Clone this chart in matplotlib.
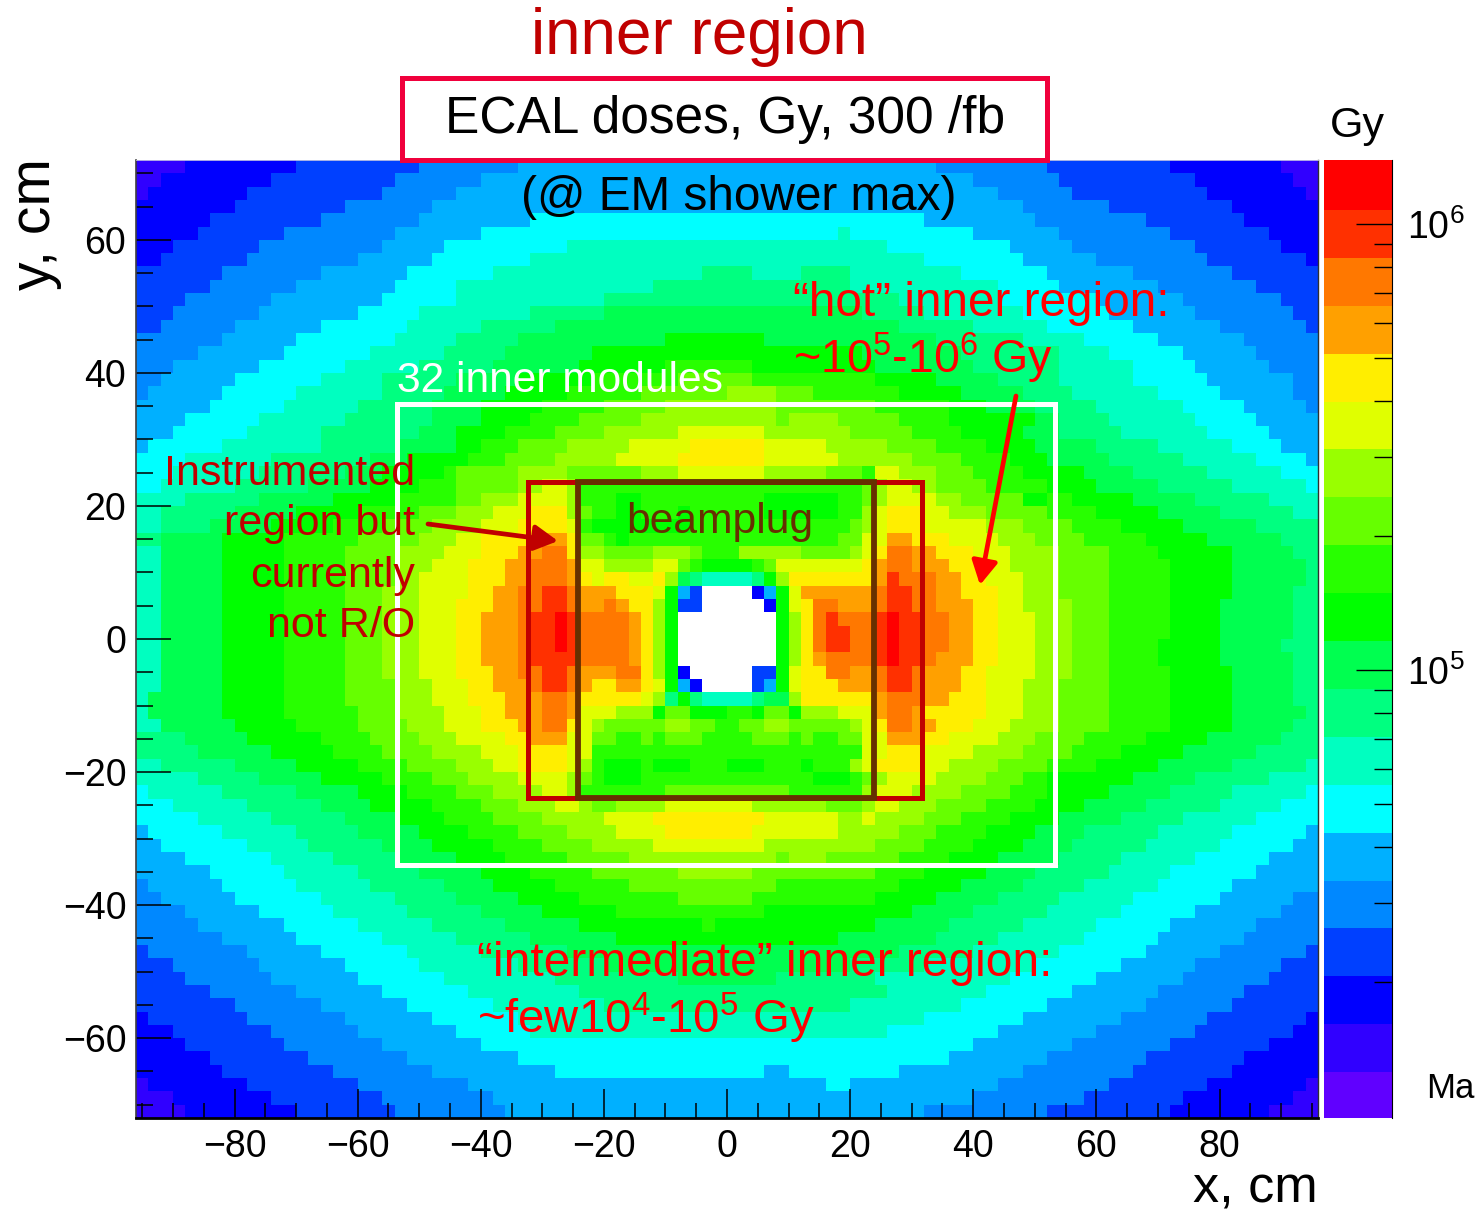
import numpy as np
import matplotlib
matplotlib.use("Agg")
import matplotlib.pyplot as plt
from matplotlib.colors import ListedColormap, LogNorm
from matplotlib.patches import Rectangle, FancyArrowPatch
from matplotlib.ticker import FixedLocator, NullFormatter

plt.rcParams['font.family'] = ['Liberation Sans', 'DejaVu Sans']
plt.rcParams['mathtext.fontset'] = 'custom'
plt.rcParams['mathtext.rm'] = 'Liberation Sans'
plt.rcParams['mathtext.default'] = 'rm'

W, H = 1476, 1213

# palette levels, lowest dose first (letter = level in the rows below)
level_names = "abcdefghijklmnopqrst"
level_colors = ['#6000ff', '#3000ff', '#0000ff', '#0040ff', '#0088ff', '#00b0ff', '#00ffff',
                '#00ffc0', '#00ff80', '#00ff50', '#00ff00', '#28ff00', '#66ff00', '#99ff00',
                '#e0ff00', '#ffee00', '#ffa000', '#ff7800', '#ff3000', '#ff0000']
dose_min, dose_max = 9.9e3, 1.39e6

x_edges = np.arange(-96, 97, 2)
y_edges = np.arange(72, -73, -2)

# one string per row from y=+72 down, each token = level + column where that level stops
dose_rows = [
    "b4 c13 d23 e31 f65 e74 d84 c93 b96",
    "b2 c11 d21 e28 f68 e75 d86 c94 b96",
    "b1 c9 d20 e26 f70 e76 d87 c95 b96",
    "c8 d17 e24 f72 e79 d89 c96",
    "c6 d15 e23 f32 g64 f73 e82 d90 c96",
    "c5 d12 e21 f28 g57 h58 g68 f75 e84 d92 c96",
    "c3 d10 e20 f25 g35 h61 g71 f76 e86 d93 c96",
    "c2 d9 e18 f24 g32 h64 g72 f78 e87 d95 c96",
    "d7 e15 f22 g29 h46 i50 h54 i58 h67 g74 f81 e89 d96",
    "d6 e13 f21 g26 h42 i58 h70 g75 f83 e91 d96",
    "d4 e11 f20 g26 h38 i62 h70 g78 f85 e93 d96",
    "d3 e10 f18 g23 h32 i38 j59 i64 h72 g79 f86 e94 d96",
    "d2 e8 f15 g22 h28 i34 j62 i68 h74 g81 f88 e95 d96",
    "e7 f13 g21 h26 i31 j43 k51 j65 i72 h77 g83 f90 e96",
    "e5 f12 g19 h25 i30 j37 k59 j67 i75 h79 g85 f91 e96",
    "e3 f10 g17 h23 i29 j36 k43 l50 k60 j68 i75 h81 g86 f92 e96",
    "e2 f8 g15 h20 i26 j31 k37 l44 m50 l60 k65 j70 i75 h81 g87 f94 e96",
    "e1 f7 g13 h20 i25 j30 k35 l41 m48 n52 m55 l62 k67 j72 i76 h83 g88 f94 e96",
    "f6 g12 h18 i24 j28 k33 l38 m43 n52 m60 l66 k69 j73 i78 h85 g90 f95 e96",
    "f4 g10 h17 i24 j28 k32 l36 m41 n52 m53 n57 m62 l66 k73 j75 i79 h86 g91 f96",
    "f3 g9 h15 i23 j26 k30 l34 m38 n44 o51 n58 m63 l67 k72 j75 i80 h87 g92 f96",
    "f1 g7 h15 i21 j26 k28 l31 m35 n40 o45 p51 o56 n61 m65 l69 k73 j78 i83 h89 g93 f96",
    "g4 h11 i19 j22 k27 l30 m34 n39 o44 p51 o57 n63 m67 l71 k74 j79 i85 h91 g95 f96",
    "g3 h10 i17 j20 k25 l26 m31 n35 m41 n44 o51 n56 m59 l60 o62 n65 m68 l72 k77 j81 i87 h93 g96",
    "g2 h8 i14 j19 k23 l26 m31 n33 o35 n36 l59 m60 n61 o63 n65 m69 l74 k78 j83 i89 h95 g96",
    "h4 i10 j16 k21 l26 m28 n31 o35 n36 l39 k41 l51 k57 l59 m60 n61 o65 n67 m72 k74 l76 k81 j86 i92 h96",
    "h2 i8 j13 k18 l23 m26 n29 o32 p35 n36 m37 l39 k41 l44 k45 l51 k57 l59 n60 o61 p64 o66 n69 m74 l78 k83 j88 i94 h96",
    "h2 i6 j11 k16 l20 m24 n28 o31 p35 o36 l37 k45 l58 m59 n60 o61 p64 o69 n72 m76 l80 k85 j91 i96",
    "i2 j7 k12 l18 m23 n26 o28 p33 q35 p36 m38 l39 k40 l57 m59 o61 q63 p66 o70 n73 m77 l82 k87 j93 i96",
    "h2 j7 k12 l17 m21 n25 o28 p31 q33 r35 p36 n38 m42 n45 m46 l49 n54 m58 n59 o60 p61 r63 q65 p68 o71 n75 m79 l83 k89 j94 i96",
    "h2 j7 k12 l17 m21 n24 o27 p30 q32 r35 q36 o38 n42 o44 m45 l46 k50 l51 m52 o59 p60 q61 r63 q66 p69 o71 n75 m79 l84 k89 j95 i96",
    "h2 j7 k12 l17 m21 n23 o27 p30 q32 r35 q36 p37 o38 p40 o42 p43 n44 j45 i46 h50 i51 k52 n53 p60 q61 s62 r65 q67 p69 o72 n75 m79 l84 k89 j95 i96",
    "h2 j7 k12 l17 m20 n23 o27 p29 q31 r33 s35 r36 q39 p42 o43 k44 f45 d46 .50 c51 f52 k53 o54 q60 r61 s63 r65 q67 p70 o72 n75 m79 l84 k89 j94 i96",
    "h2 j7 k12 l17 m20 n23 o26 p29 q31 r33 s35 r36 q38 r39 q40 p42 n43 k44 d46 .51 c52 k53 o54 p55 r57 q60 r61 s63 r65 q68 p70 o72 n76 m79 l84 k88 j94 i96",
    "h2 j7 k12 l17 m20 n23 o26 p28 q31 r32 s34 t35 s36 r40 q41 p42 n43 k44 .52 k53 n54 p55 r56 s57 r60 s61 t62 s64 r66 q68 p70 o73 n76 m79 l84 k88 j94 i96",
    "h2 j7 k12 l17 m20 n23 o26 p28 q31 r32 s34 t35 s36 r40 q41 p42 n43 k44 .52 k53 n54 p55 r56 s58 r60 s61 t62 s64 r66 q68 p70 o73 n76 m79 l84 k88 j94 i96",
    "h2 j7 k12 l17 m20 n23 o26 p28 q31 r32 s34 t35 s36 r40 q41 p42 n43 k44 .52 k53 n54 p55 r56 s58 r60 s61 t62 s64 r66 q68 p70 o73 n76 m79 l83 k88 j93 i96",
    "h2 j7 k12 l17 m20 n23 o26 p28 q31 r32 s36 r40 q41 p42 n43 k44 .52 k53 n54 p55 q56 r60 s61 t62 s64 r65 q68 p70 o73 n76 m79 l83 k88 j94 i96",
    "h2 j7 k12 l17 m20 n23 o26 p29 q31 r33 s35 r36 q39 r41 p42 n43 k44 c45 .50 d52 k53 o54 p56 r58 q60 r61 s63 r64 q67 p69 o73 n76 m79 l84 k89 j94 i96",
    "h2 j7 k12 l17 m21 n24 o27 p29 q32 r33 s35 r36 q37 p39 q41 p42 o43 k44 f45 c46 .50 d51 f52 k53 o54 p57 q60 r61 s63 r64 q67 p69 o72 n75 m79 l84 k89 j94 i96",
    "h1 j7 k12 l17 m21 n24 o27 p30 q33 r35 q36 p41 o42 n43 i44 k45 i46 h50 i51 j53 n54 p60 q61 r64 q66 p69 o72 n75 m79 l84 k89 j94 i96",
    "h1 j7 k12 l18 m21 n25 o28 p30 q33 r35 q36 o39 n42 k43 m45 k48 l50 k51 m53 k54 n57 o60 q61 r63 q64 p69 o72 n75 m79 l84 k89 j95 i96",
    "h2 j8 k13 l18 m22 n25 o28 p31 q33 r35 p36 o37 n38 m43 n45 m47 l49 m51 n53 m58 n59 o60 p61 r63 q65 p68 o71 n75 m79 l84 k89 j94 i96",
    "i4 j9 k15 l19 m23 n26 o30 p32 q35 o37 m39 l41 m42 l43 m46 l50 m53 l54 m55 l57 m59 o61 q64 p66 o70 n73 m77 l82 k87 j93 i96",
    "i5 j11 k16 l20 m24 n28 o31 p35 o37 l59 o61 p64 o68 n72 m76 l80 k85 j91 i96",
    "h2 i8 j13 k18 l22 m26 n29 o31 p35 o36 n37 l38 k41 l42 k45 l48 k51 l54 k55 l58 n59 o60 p64 o66 n70 m74 l78 k83 j89 i95 h96",
    "h5 i10 j15 k20 l24 m27 n31 o35 n36 m37 l38 k41 l55 k58 l59 m60 n61 o65 n69 m72 l74 k81 j86 i92 h96",
    "g1 h7 i13 j18 k22 l26 m29 n33 o35 n36 l43 m53 l59 n60 o63 n67 m71 l74 k79 j84 i89 h95 g96",
    "g3 h9 i15 j19 k24 l28 m31 n34 o36 n37 m39 n43 o50 n56 m59 n60 o62 n65 m69 l73 k77 j82 i88 h93 g96",
    "g5 h11 i17 j21 k25 l29 m33 n38 o42 p51 o57 n59 o60 n64 m67 l71 k75 j80 i85 h91 g96",
    "f1 g7 h13 i18 j23 k27 l31 m35 n39 o43 p50 o57 n62 m65 l69 k73 j77 i83 h89 g95 f96",
    "f2 g9 h14 i20 j24 k29 l33 m37 n42 o51 n60 m64 l68 k72 j76 i82 h88 g94 f96",
    "f4 g11 h16 i21 j26 k30 l35 m40 n52 m53 n56 m62 l66 k70 j75 i80 h86 g92 f96",
    "f6 g12 h18 i23 j28 k32 l37 m44 n50 m60 l64 k69 j73 i79 h84 g91 f96",
    "e1 f7 g13 h19 i25 j29 k34 l40 m52 l62 k67 j72 i77 h83 g89 f96",
    "e2 f8 g15 h21 i26 j31 k36 l44 m50 l60 k65 j70 i75 h81 g88 f94 e96",
    "e4 f10 g16 h22 i28 j33 k39 l51 k63 j68 i74 h80 g86 f93 e96",
    "e5 f12 g18 h24 i30 j36 k46 l47 k60 j66 i72 h78 g84 f91 e96",
    "e7 f13 g20 h26 i32 j39 k57 j65 i70 h77 g83 f90 e96",
    "d1 e9 f15 g22 h28 i35 j62 i68 h75 g82 f88 e95 d96",
    "d3 e10 f17 g23 h31 i38 j58 i64 h73 g80 f86 e93 d96",
    "d4 e11 f18 g25 h34 i44 j52 i60 h71 g78 f85 e92 d96",
    "d6 e13 f20 g27 h36 i61 h69 g76 f83 e90 d96",
    "d8 e15 f22 g29 h38 i58 h67 g74 f82 e89 d96",
    "c1 d9 e17 f24 g31 h64 g72 f80 e87 d95 c96",
    "c3 d11 e18 f26 g32 h61 g70 f78 e86 d94 c96",
    "c4 d12 e20 f28 g68 f76 e84 d92 c96",
    "c6 d14 e22 f31 g66 f74 e82 d90 c96",
    "c7 d16 e24 f34 g51 f53 g62 f72 e81 d89 c96",
    "b1 c9 d18 e27 f56 g58 f70 e79 d87 c95 b96",
    "b3 c11 d20 e29 f68 e77 d85 c94 b96",
    "b4 c13 d21 e30 f64 e74 d84 c92 b96",
]


def decode_row(row):
    cells = np.full(96, np.nan)
    start = 0
    for tok in row.split():
        stop = int(tok[1:])
        if tok[0] != '.':
            k = level_names.index(tok[0])
            cells[start:stop] = dose_min * (dose_max / dose_min) ** ((k + 0.5) / 20)
        start = stop
    return cells


def fx(x):
    return x / W


def fy(y):
    return 1 - y / H


doses = np.ma.masked_invalid(np.array([decode_row(r) for r in dose_rows]))

fig = plt.figure(figsize=(W / 100, H / 100), dpi=100)
ax = fig.add_axes([fx(136), fy(1118), (1318 - 136) / W, (1118 - 160) / H])
cax = fig.add_axes([fx(1324), fy(1118), (1392 - 1324) / W, (1118 - 160) / H])

cmap = ListedColormap(level_colors)
cmap.set_bad('white')
mesh = ax.pcolormesh(x_edges, y_edges, doses, cmap=cmap, norm=LogNorm(dose_min, dose_max))
ax.set_xlim(-96, 96)
ax.set_ylim(-72, 72)

ax.set_xticks(np.arange(-80, 81, 20))
ax.set_yticks(np.arange(-60, 61, 20))
ax.set_xticks(np.arange(-95, 96, 5), minor=True)
ax.set_yticks(np.arange(-70, 71, 5), minor=True)
ax.tick_params(axis='x', which='major', direction='in', length=21, width=1.1, labelsize=27, pad=8)
ax.tick_params(axis='x', which='minor', direction='in', length=11, width=1.1)
ax.tick_params(axis='y', which='major', direction='in', length=25, width=1.1, labelsize=27, pad=7)
ax.tick_params(axis='y', which='minor', direction='in', length=12.5, width=1.1)
ax.spines['bottom'].set_linewidth(2)
ax.spines['left'].set_color('#404040')
ax.spines['left'].set_linewidth(1.2)
ax.spines['right'].set_color('#303030')
ax.spines['right'].set_linewidth(1)
ax.spines['top'].set_color('#c8c8e0')
ax.spines['top'].set_linewidth(0.6)

cb = fig.colorbar(mesh, cax=cax)
cb.solids.set_edgecolor('face')
cb.outline.set_visible(False)
cax.spines['right'].set_visible(True)
cax.yaxis.set_major_locator(FixedLocator([1e5, 1e6]))
cax.yaxis.set_minor_locator(FixedLocator([m * d for d in (1e4, 1e5) for m in range(2, 10)]))
cax.yaxis.set_minor_formatter(NullFormatter())
cax.set_yticklabels(['$10^{5}$', '$10^{6}$'])
cax.tick_params(which='major', direction='in', length=26, width=1, labelsize=27, pad=11, right=True, left=False)
cax.tick_params(which='minor', direction='in', length=13, width=1, right=True, left=False)

# overlays, placed in pixels of the slide
for x0, y0, x1, y1, col, lw in [
    (396.5, 404, 1054.5, 864.5, 'white', 3.6),
    (528, 481.5, 922, 797.5, '#c00000', 3.6),
    (578, 481.5, 874, 797.5, '#663000', 4.2),
]:
    fig.add_artist(Rectangle((fx(x0), fy(y1)), (x1 - x0) / W, (y1 - y0) / H, transform=fig.transFigure,
                             fill=False, edgecolor=col, linewidth=lw))
fig.add_artist(Rectangle((fx(402), fy(160)), (1047 - 402) / W, (160 - 78) / H, transform=fig.transFigure,
                         facecolor='white', edgecolor='#f0003c', linewidth=3.6))


def label(x, y, s, size, color='black', ha='left', va='center', **kw):
    fig.text(fx(x), fy(y), s, fontsize=size, color=color, ha=ha, va=va, **kw)


label(699, 37, 'inner region', 46, '#c00000', ha='center')
label(725, 120, 'ECAL doses, Gy, 300 /fb', 37, ha='center')
label(739, 197, '(@ EM shower max)', 34.4, ha='center')
label(1357, 126, 'Gy', 31, ha='center')
label(1426, 1088, 'Ma', 25)
label(793, 304, '“hot” inner region:', 34.4, '#ff0000')
label(793, 358, '~10$^{5}$-10$^{6}$ Gy', 33.5, '#ff0000')
label(397, 381, '32 inner modules', 30.6, 'white')
label(720, 522, 'beamplug', 30.7, '#663000', ha='center')
label(477, 963, '“intermediate” inner region:', 34.5, '#ff0000')
label(477, 1018, '~few10$^{4}$-10$^{5}$ Gy', 34, '#ff0000')
label(415, 474, 'Instrumented', 31, '#c00000', ha='right')
label(415, 524, 'region but', 31, '#c00000', ha='right')
label(415, 576, 'currently', 31, '#c00000', ha='right')
label(415, 626, 'not R/O', 31, '#c00000', ha='right')
label(1318, 1189, 'x, cm', 37.5, ha='right')
label(35, 158, 'y, cm', 41, va='top', ha='center', rotation=90)

for start, end, col in [((428, 524), (558, 541), '#c00000'), ((1016, 396), (980, 585), '#ff0000')]:
    fig.add_artist(FancyArrowPatch(
        (fx(start[0]), fy(start[1])), (fx(end[0]), fy(end[1])), transform=fig.transFigure,
        arrowstyle='-|>,head_length=0.55,head_width=0.3', mutation_scale=26, color=col,
        linewidth=3.4, shrinkA=0, shrinkB=0))

fig.savefig("out.png", dpi=100)
